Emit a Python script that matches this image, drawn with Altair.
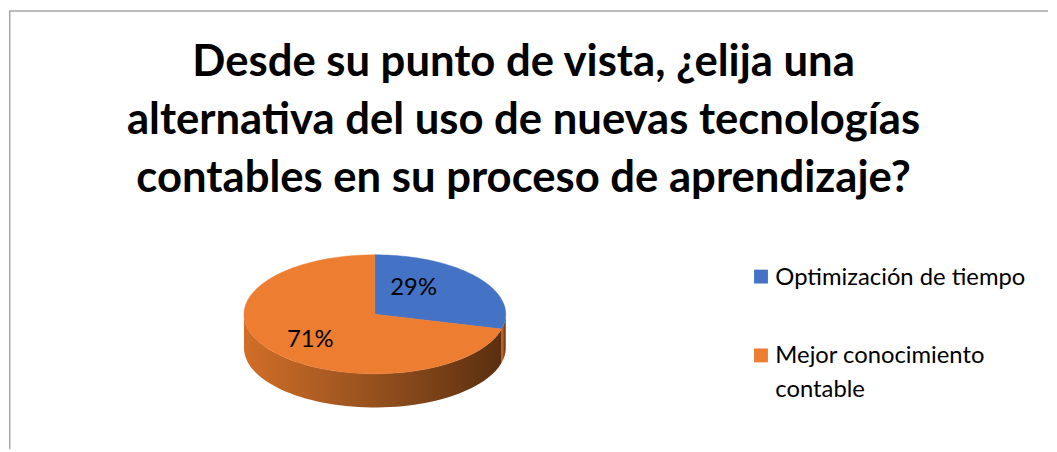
import altair as alt
import pandas as pd

# ---- data ----
categories = ["Optimización de tiempo", "Mejor conocimiento contable"]
legend_labels = ["Optimización de tiempo", "Mejor conocimiento\ncontable"]
values = [29, 71]
pct_labels = ["29%", "71%"]
colors = ["#4472C4", "#ED7D31"]
title_lines = [
    "Desde su punto de vista, ¿elija una",
    "alternativa del uso de nuevas tecnologías",
    "contables en su proceso de aprendizaje?",
]

df = pd.DataFrame({
    "cat": categories,
    "value": values,
    "idx": list(range(len(values))),
    "lbl": pct_labels,
    "legend": legend_labels,
})

FONT = "Lato"
W, H = 1048, 443
CX, CY, RX, RY, DEPTH = 369, 307, 132, 60, 34
d = DEPTH / RY

xs = alt.Scale(domain=[-1, 1], range=[CX - RX, CX + RX], nice=False, zero=False)
ys = alt.Scale(domain=[-1, 1], range=[CY + RY, CY - RY], nice=False, zero=False)
cscale = alt.Scale(domain=categories, range=colors)

base = (
    alt.Chart(df)
    .transform_joinaggregate(total="sum(value)")
    .transform_window(cum="sum(value)", sort=[alt.SortField("idx")], frame=[None, 0])
    .transform_calculate(
        a1="2*PI*datum.cum/datum.total",
        a0="2*PI*(datum.cum-datum.value)/datum.total",
    )
)

side_gradient = alt.Gradient(
    gradient="linear",
    stops=[
        alt.GradientStop(color="#D26E28", offset=0),
        alt.GradientStop(color="#9C5420", offset=0.45),
        alt.GradientStop(color="#5A2F10", offset=1),
    ],
    x1=0, x2=1, y1=0, y2=0,
)

side = (
    base.transform_calculate(s0="max(datum.a0, PI/2)", s1="min(datum.a1, 3*PI/2)")
    .transform_filter("datum.s1 > datum.s0")
    .transform_calculate(k="sequence(0, 122)")
    .transform_flatten(["k"])
    .transform_calculate(
        t="datum.k <= 60 ? datum.s0 + (datum.s1-datum.s0)*datum.k/60 : datum.s1 - (datum.s1-datum.s0)*(datum.k-61)/60"
    )
    .transform_calculate(
        px="sin(datum.t)",
        py=f"datum.k <= 60 ? cos(datum.t) : cos(datum.t) - {d}",
    )
    .mark_line(filled=True, interpolate="linear-closed", fill=side_gradient, strokeWidth=0)
    .encode(
        x=alt.X("px:Q", scale=xs, axis=None),
        y=alt.Y("py:Q", scale=ys, axis=None),
        order="k:Q",
        detail="cat:N",
    )
)

top = (
    base.transform_calculate(k="sequence(0, 63)")
    .transform_flatten(["k"])
    .transform_calculate(t="datum.a0 + (datum.a1-datum.a0)*(datum.k-1)/60")
    .transform_calculate(
        px="(datum.k==0 || datum.k==62) ? 0 : sin(datum.t)",
        py="(datum.k==0 || datum.k==62) ? 0 : cos(datum.t)",
    )
    .mark_line(filled=True, interpolate="linear-closed", strokeWidth=0.5)
    .encode(
        x=alt.X("px:Q", scale=xs, axis=None),
        y=alt.Y("py:Q", scale=ys, axis=None),
        order="k:Q",
        color=alt.Color("cat:N", scale=cscale, legend=None),
        stroke=alt.Stroke("cat:N", scale=cscale, legend=None),
    )
)

labels = (
    base.transform_calculate(m="(datum.a0+datum.a1)/2")
    .transform_calculate(lx="0.5*sin(datum.m)", ly="0.72*cos(datum.m)")
    .mark_text(font=FONT, fontSize=24, color="#000000", align="center", baseline="middle", dx=-13)
    .encode(
        x=alt.X("lx:Q", scale=xs, axis=None),
        y=alt.Y("ly:Q", scale=ys, axis=None),
        text="lbl:N",
    )
)

leg_sq = (
    alt.Chart(df)
    .mark_square(size=196, opacity=1)
    .encode(
        x=alt.value(758.5),
        y=alt.Y("idx:Q", scale=alt.Scale(domain=[0, 1], range=[269, 348.5], nice=False, zero=False), axis=None),
        color=alt.Color("cat:N", scale=cscale, legend=None),
    )
)

leg_txt = (
    alt.Chart(df)
    .mark_text(align="left", baseline="alphabetic", lineBreak="\n", lineHeight=34,
               font=FONT, fontSize=24, color="#000000")
    .encode(
        x=alt.value(773),
        y=alt.Y("idx:Q", scale=alt.Scale(domain=[0, 1], range=[277, 356], nice=False, zero=False), axis=None),
        text="legend:N",
    )
)

title = (
    alt.Chart(pd.DataFrame({"t": ["\n".join(title_lines)]}))
    .mark_text(lineBreak="\n", lineHeight=58.5, font=FONT, fontWeight="bold", fontSize=44,
               align="center", baseline="alphabetic", color="#000000")
    .encode(x=alt.value(519), y=alt.value(67), text="t:N")
)

border_df = pd.DataFrame({"b": [0]})
border_top = alt.Chart(border_df).mark_rule(color="#A6A6A6", strokeWidth=1.5).encode(
    x=alt.value(0), x2=alt.value(W), y=alt.value(1)
)
border_left = alt.Chart(border_df).mark_rule(color="#A6A6A6", strokeWidth=1.5).encode(
    x=alt.value(0.75), y=alt.value(1), y2=alt.value(H)
)

chart = (
    alt.layer(border_top, border_left, side, top, labels, leg_sq, leg_txt, title)
    .resolve_scale(x="independent", y="independent", color="independent", stroke="independent")
    .properties(width=W, height=H, padding=0, background="white")
    .configure_view(stroke=None)
)

chart.save("out.html", embed_options={"renderer": "svg", "actions": False})
